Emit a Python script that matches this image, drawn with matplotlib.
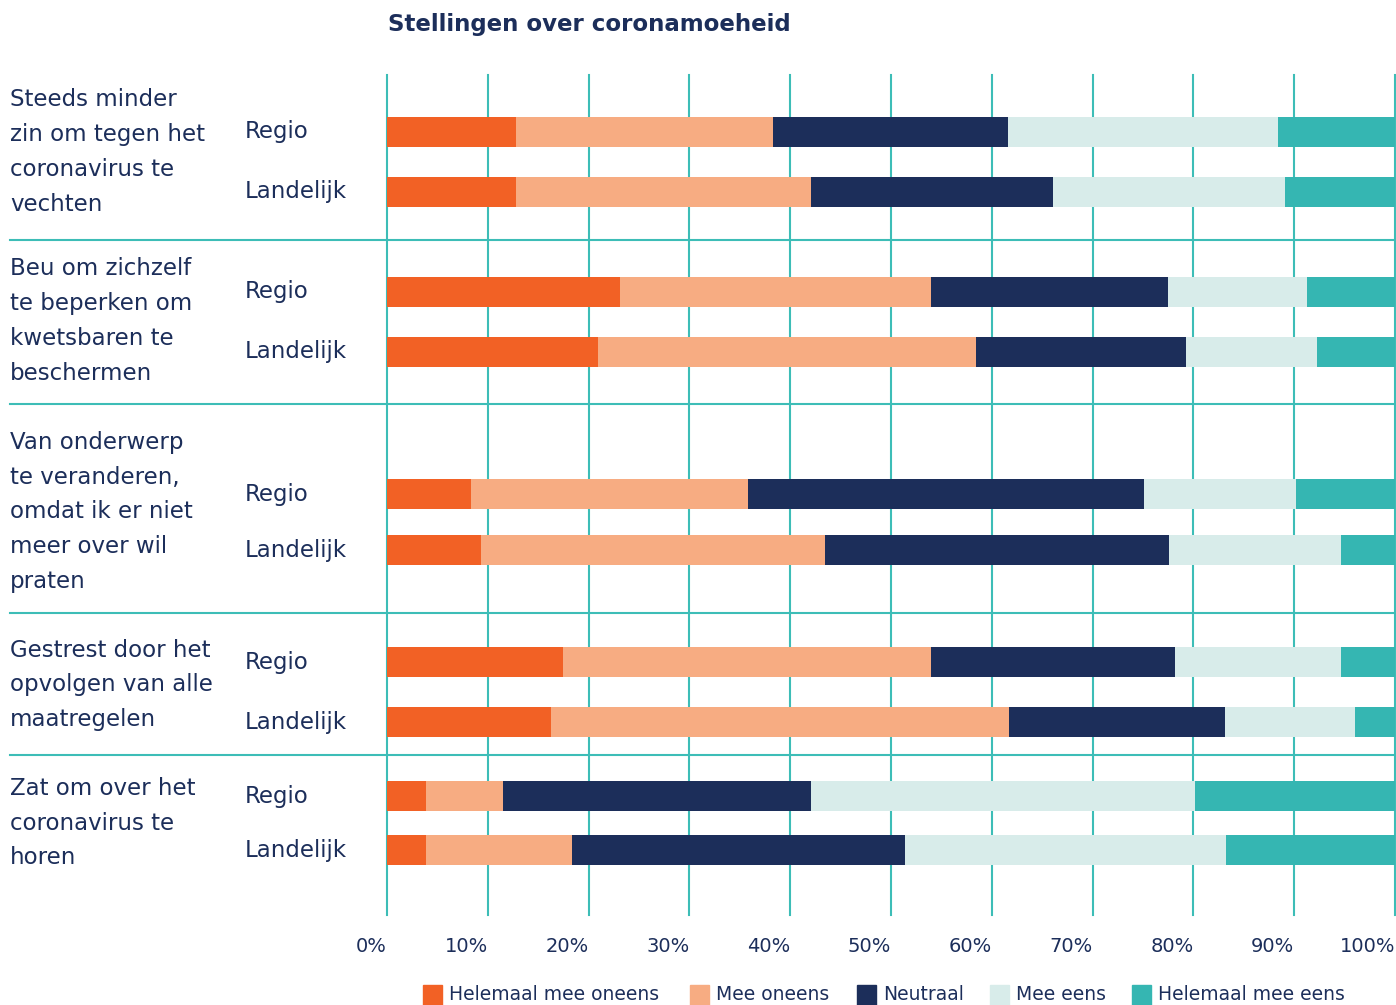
import numpy as np
import matplotlib.pyplot as plt
from matplotlib.patches import Rectangle
import matplotlib.transforms as mtransforms

plt.rcParams['font.family'] = ['DejaVu Sans']

# data, one entry per bar (Regio, Landelijk per statement), in %
statements = ["Steeds minder\nzin om tegen het\ncoronavirus te\nvechten",
              "Beu om zichzelf\nte beperken om\nkwetsbaren te\nbeschermen",
              "Van onderwerp\nte veranderen,\nomdat ik er niet\nmeer over wil\npraten",
              "Gestrest door het\nopvolgen van alle\nmaatregelen",
              "Zat om over het\ncoronavirus te\nhoren"]
groups = ["Regio", "Landelijk"]
answers = ["Helemaal mee oneens", "Mee oneens", "Neutraal", "Mee eens", "Helemaal mee eens"]

helemaal_oneens = [12.8, 12.8, 23.1, 20.9, 8.3, 9.3, 17.5, 16.3, 3.9, 3.9]
oneens          = [25.5, 29.3, 30.9, 37.5, 27.5, 34.2, 36.5, 45.4, 7.6, 14.5]
neutraal        = [23.3, 24.0, 23.5, 20.9, 39.3, 34.1, 24.2, 21.4, 30.6, 33.0]
eens            = [26.8, 23.0, 13.8, 13.0, 15.1, 17.0, 16.4, 12.9, 38.1, 31.8]
helemaal_eens   = [11.6, 10.9, 8.7, 7.7, 9.8, 5.4, 5.4, 4.0, 19.8, 16.8]
series = [helemaal_oneens, oneens, neutraal, eens, helemaal_eens]

colors = ["#F26125", "#F7AC82", "#1C2E5A", "#D8ECEA", "#35B6B2"]
navy = "#1C2E5A"
grid_c = "#3DBDB7"

# layout (pixel rows of the figure)
W, H = 1396, 1005
bar_y = [132, 192, 292, 352, 494, 550, 662, 722, 796, 850]
label_y = [152, 321, 512, 685, 823]
sep_y = [240, 404, 613, 755]
top, bottom = 75, 915
left, right = 387, 1395

fig = plt.figure(figsize=(W / 100, H / 100), dpi=100)
ax = fig.add_axes([left / W, 1 - bottom / H, (right - left) / W, (bottom - top) / H])
ax.set_xlim(0, 100)
ax.set_ylim(bottom, top)
for s in ax.spines.values():
    s.set_visible(False)
ax.set_yticks([])
ax.tick_params(axis='x', length=0, pad=16, labelsize=14, labelcolor=navy)
ax.set_xticks(np.arange(0, 101, 10))
ax.set_xticklabels([f"{v}%" for v in range(0, 101, 10)], ha='right')

for x in range(0, 101, 10):
    ax.axvline(x, color=grid_c, lw=1.5, zorder=1, clip_on=False)

bl = np.zeros(len(bar_y))
for vals, c, name in zip(series, colors, answers):
    ax.barh(bar_y, vals, left=bl, height=30, color=c, zorder=2, label=name)
    bl += np.array(vals)

# separators across label column
trans = mtransforms.blended_transform_factory(fig.transFigure, ax.transData)
for y in sep_y:
    ax.plot([10 / W, right / W], [y, y], transform=trans, color=grid_c, lw=1.5,
            clip_on=False, zorder=1)

for txt, y in zip(statements, label_y):
    ax.text(10 / W, y, txt, transform=trans, ha='left', va='center', fontsize=16.5,
            color=navy, linespacing=1.66)
for i, y in enumerate(bar_y):
    ax.text(245 / W, y, groups[i % 2], transform=trans, ha='left', va='center',
            fontsize=16.5, color=navy)

fig.text(388 / W, 1 - 24 / H, "Stellingen over coronamoeheid", fontsize=16.5,
         fontweight='bold', color=navy, ha='left', va='center')

# legend
leg_x = [423, 690, 857, 990, 1132]
for x, c, name in zip(leg_x, colors, answers):
    fig.patches.append(Rectangle((x / W, 0), 19 / W, 20 / H, transform=fig.transFigure,
                                 color=c))
    fig.text((x + 26) / W, 11 / H, name, fontsize=13.5, color=navy, ha='left', va='center')

fig.savefig("out.png", dpi=100)
